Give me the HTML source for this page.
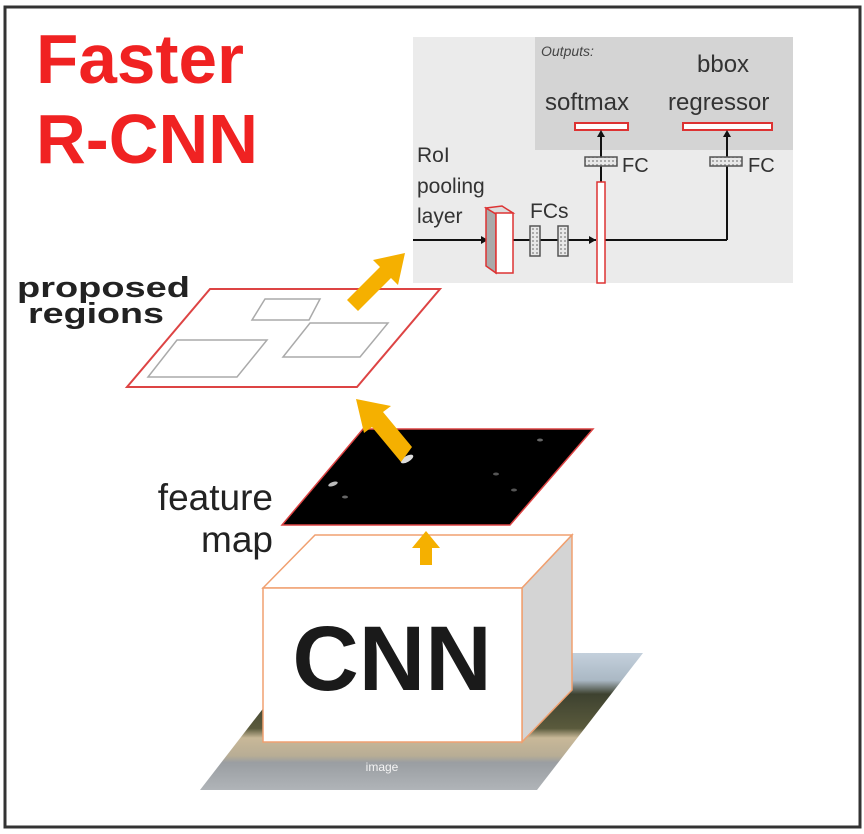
<!DOCTYPE html>
<html><head><meta charset="utf-8"><style>
html,body{margin:0;padding:0;background:#fff;}
svg{display:block;}
text{font-family:"Liberation Sans",sans-serif;}
</style></head><body>
<svg width="864" height="834" viewBox="0 0 864 834" xmlns="http://www.w3.org/2000/svg">
<defs>
<linearGradient id="img" x1="0" y1="653" x2="0" y2="790" gradientUnits="userSpaceOnUse">
<stop offset="0" stop-color="#c4d0dc"/>
<stop offset="0.2" stop-color="#aab8c4"/>
<stop offset="0.3" stop-color="#3e4230"/>
<stop offset="0.55" stop-color="#5a5a3c"/>
<stop offset="0.62" stop-color="#c8b898"/>
<stop offset="0.75" stop-color="#b8ad95"/>
<stop offset="0.8" stop-color="#9a9ea2"/>
<stop offset="1" stop-color="#b0b4b8"/>
</linearGradient>
<pattern id="dots" width="4" height="4" patternUnits="userSpaceOnUse"><rect width="4" height="4" fill="#e8e8e8"/><rect width="2" height="2" fill="#aaa"/></pattern>
</defs>
<rect x="0" y="0" width="864" height="834" fill="#fff"/>
<rect x="5" y="7" width="855" height="820" fill="none" stroke="#333" stroke-width="3"/>

<text x="36" y="83" font-size="70" font-weight="bold" fill="#f02222" textLength="208" lengthAdjust="spacingAndGlyphs">Faster</text>
<text x="36" y="163" font-size="70" font-weight="bold" fill="#f02222" textLength="222" lengthAdjust="spacingAndGlyphs">R-CNN</text>

<text x="17" y="297" font-size="29" font-weight="bold" fill="#222" textLength="173" lengthAdjust="spacingAndGlyphs">proposed</text>
<text x="28" y="323" font-size="29" font-weight="bold" fill="#222" textLength="136" lengthAdjust="spacingAndGlyphs">regions</text>

<text x="273" y="510" font-size="37" fill="#222" text-anchor="end">feature</text>
<text x="273" y="552" font-size="37" fill="#222" text-anchor="end">map</text>

<!-- inset -->
<rect x="413" y="37" width="380" height="246" fill="#ebebeb"/>
<rect x="535" y="37" width="258" height="113" fill="#d4d4d4"/>
<text x="541" y="56" font-size="14" font-style="italic" fill="#444">Outputs:</text>
<text x="697" y="72" font-size="24" fill="#333">bbox</text>
<text x="545" y="110" font-size="24" fill="#333">softmax</text>
<text x="668" y="110" font-size="24" fill="#333">regressor</text>
<rect x="575" y="123" width="53" height="7" fill="#fff" stroke="#d33" stroke-width="2"/>
<rect x="683" y="123" width="89" height="7" fill="#fff" stroke="#d33" stroke-width="2"/>
<text x="417" y="162" font-size="21" fill="#333">RoI</text>
<text x="417" y="193" font-size="21" fill="#333">pooling</text>
<text x="417" y="223" font-size="21" fill="#333">layer</text>
<text x="530" y="218" font-size="21" fill="#333">FCs</text>
<!-- lines -->
<line x1="413" y1="240" x2="487" y2="240" stroke="#111" stroke-width="2"/>
<line x1="513" y1="240" x2="596" y2="240" stroke="#111" stroke-width="2"/>
<line x1="605" y1="240" x2="727" y2="240" stroke="#111" stroke-width="2"/>
<line x1="727" y1="240" x2="727" y2="132" stroke="#111" stroke-width="2"/>
<line x1="601" y1="182" x2="601" y2="132" stroke="#111" stroke-width="2"/>
<polygon points="601,130 597,137 605,137" fill="#111"/>
<polygon points="727,130 723,137 731,137" fill="#111"/>
<polygon points="596,240 589,236 589,244" fill="#111"/>
<polygon points="488,240 481,236 481,244" fill="#111"/>
<!-- FC boxes -->
<rect x="585" y="157" width="32" height="9" fill="url(#dots)" stroke="#555" stroke-width="1.5"/>
<rect x="710" y="157" width="32" height="9" fill="url(#dots)" stroke="#555" stroke-width="1.5"/>
<text x="622" y="172" font-size="20" fill="#333">FC</text>
<text x="748" y="172" font-size="20" fill="#333">FC</text>
<rect x="530" y="226" width="10" height="30" fill="url(#dots)" stroke="#555" stroke-width="1.5"/>
<rect x="558" y="226" width="10" height="30" fill="url(#dots)" stroke="#555" stroke-width="1.5"/>
<!-- RoI box -->
<polygon points="486,208 496,214 496,273 486,266" fill="#aaa" stroke="#d33" stroke-width="1.5"/>
<polygon points="486,208 502,206 513,213 496,214" fill="#ddd" stroke="#d33" stroke-width="1.5"/>
<rect x="496" y="213" width="17" height="60" fill="#fff" stroke="#d33" stroke-width="1.5"/>
<!-- red vertical bar -->
<rect x="597" y="182" width="8" height="101" fill="#fff" stroke="#d33" stroke-width="1.5"/>

<!-- proposed regions -->
<polygon points="127,387 357,387 440,289 210,289" fill="#fff" stroke="#d44" stroke-width="2"/>
<polygon points="252,320 309,320 320,299 265,299" fill="none" stroke="#aaa" stroke-width="1.5"/>
<polygon points="148,377 237,377 267,340 177,340" fill="none" stroke="#aaa" stroke-width="1.5"/>
<polygon points="283,357 360,357 388,323 310,323" fill="none" stroke="#aaa" stroke-width="1.5"/>
<!-- arrow up-right -->
<polygon points="347,300 380,267 373,260 405,253 398,285 391,278 358,311" fill="#f5b000"/>

<!-- feature map -->
<polygon points="282,525 510,525 593,429 363,429" fill="#000" stroke="#d44" stroke-width="1.5"/>
<ellipse cx="407" cy="459" rx="7" ry="3" fill="#ddd" transform="rotate(-30 407 459)"/>
<ellipse cx="333" cy="484" rx="5" ry="2" fill="#bbb" transform="rotate(-20 333 484)"/>
<ellipse cx="345" cy="497" rx="3" ry="1.5" fill="#666"/>
<ellipse cx="496" cy="474" rx="3" ry="1.5" fill="#555"/>
<ellipse cx="514" cy="490" rx="3" ry="1.5" fill="#555"/>
<ellipse cx="540" cy="440" rx="3" ry="1.5" fill="#666"/>
<!-- arrow up-left -->
<polygon points="412,447 383,412 391,406 356,399 364,433 372,427 401,462" fill="#f5b000"/>

<!-- image -->
<polygon points="200,790 537,790 643,653 306,653" fill="url(#img)"/>
<text x="382" y="771" font-size="12" fill="#f4f4f4" text-anchor="middle">image</text>

<!-- CNN box -->
<polygon points="263,588 315,535 572,535 522,588" fill="#fff" stroke="#f0a070" stroke-width="1.5"/>
<polygon points="522,588 572,535 572,690 522,742" fill="#d4d4d4" stroke="#f0a070" stroke-width="1.5"/>
<rect x="263" y="588" width="259" height="154" fill="#fff" stroke="#f0a070" stroke-width="1.5"/>
<text x="392" y="690" font-size="92" font-weight="bold" fill="#1a1a1a" text-anchor="middle">CNN</text>
<!-- up arrow -->
<polygon points="420,565 420,548 412,548 426,531 440,548 432,548 432,565" fill="#f5b000"/>
</svg>
</body></html>
